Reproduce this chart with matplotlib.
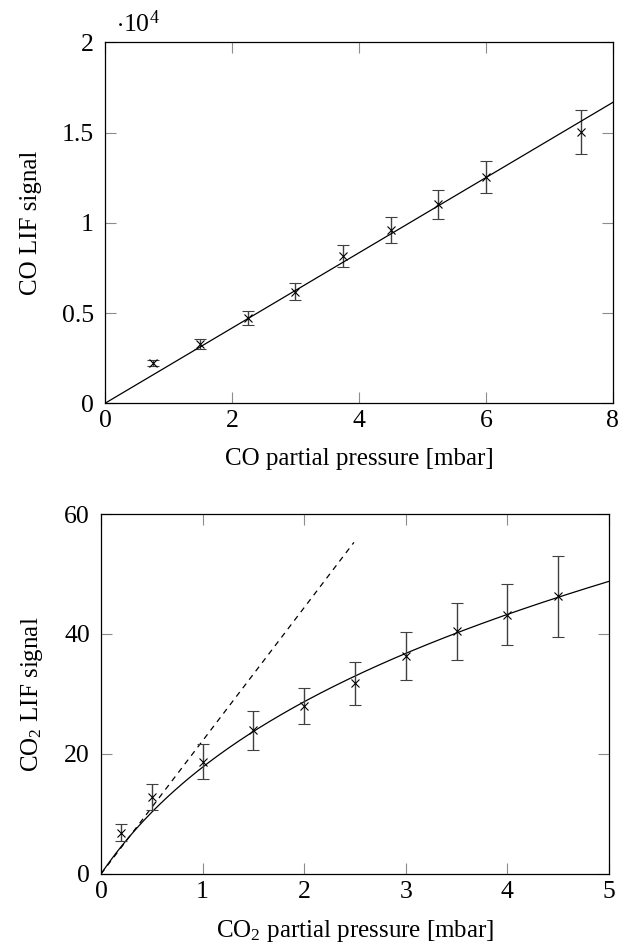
import numpy as np
import matplotlib
matplotlib.use('Agg')
import matplotlib.pyplot as plt
from matplotlib.ticker import FuncFormatter

plt.rcParams['font.family'] = ['Liberation Serif', 'DejaVu Serif']
plt.rcParams['mathtext.fontset'] = 'custom'
plt.rcParams['mathtext.rm'] = 'Liberation Serif'
plt.rcParams['mathtext.it'] = 'Liberation Serif:italic'

# CO data
co_p = [0.75, 1.5, 2.25, 3.0, 3.75, 4.5, 5.25, 6.0, 7.5]
co_sig = [2240, 3290, 4730, 6190, 8170, 9580, 11020, 12540, 15030]
co_err = [150, 300, 390, 460, 600, 720, 820, 900, 1240]
co_fit_x = [0, 8]
co_fit_y = [0, 16680]

# CO2 data
co2_p = [0.2, 0.5, 1.0, 1.5, 2.0, 2.5, 3.0, 3.5, 4.0, 4.5]
co2_sig = [6.9, 12.8, 18.7, 23.95, 28.0, 31.8, 36.4, 40.45, 43.2, 46.3]
co2_err = [1.36, 2.2, 2.9, 3.25, 3.05, 3.6, 4.0, 4.8, 5.1, 6.75]
# fit parameters: y = a*x/(1+b*x)**p
fit_a, fit_b, fit_p = 24.97, 0.758, 0.6
lin_slope = 22.2
lin_x = [0, 2.49]

fs_tick = 18.5
fs_lab = 18

fig = plt.figure(figsize=(6.21, 9.51), dpi=100)
ax1 = fig.add_axes([0.169, 0.5759, 0.818, 0.3795])
ax2 = fig.add_axes([0.1626, 0.0810, 0.818, 0.3785])

for ax in (ax1, ax2):
    ax.tick_params(direction='in', length=8, width=0.8, color='0.55',
                   top=True, right=True, labelsize=fs_tick, labelcolor='black')
    ax.tick_params(axis='x', pad=5)
    ax.tick_params(axis='y', pad=8)
    for s in ax.spines.values():
        s.set_linewidth(0.9)

# top plot
ax1.errorbar(co_p, co_sig, yerr=co_err, fmt='x', color='black', ms=6, mew=0.8,
             ecolor='0.25', elinewidth=1.0, capsize=4, capthick=1.0)
ax1.plot(co_fit_x, co_fit_y, color='black', lw=0.9)
ax1.set_xlim(0, 8)
ax1.set_ylim(0, 20000)
ax1.set_xticks([0, 2, 4, 6, 8])
ax1.set_yticks([0, 5000, 10000, 15000, 20000])
ax1.yaxis.set_major_formatter(FuncFormatter(lambda v, pos: '%g' % (v / 1e4)))
ax1.set_xlabel('CO partial pressure [mbar]', fontsize=fs_lab, labelpad=11)
ax1.set_ylabel('CO LIF signal', fontsize=fs_lab, labelpad=14)
ax1.text(0.022, 1.015, r'$\cdot10^4$', transform=ax1.transAxes, fontsize=fs_tick,
         ha='left', va='bottom')

# bottom plot
xs = np.linspace(0, 5, 200)
ax2.plot(xs, fit_a * xs / (1 + fit_b * xs) ** fit_p, color='black', lw=0.9)
ax2.plot(lin_x, [lin_slope * v for v in lin_x], color='black', lw=0.9,
         dashes=(4.5, 4))
ax2.errorbar(co2_p, co2_sig, yerr=co2_err, fmt='x', color='black', ms=6, mew=0.8,
             ecolor='0.25', elinewidth=1.0, capsize=4, capthick=1.0)
ax2.set_xlim(0, 5)
ax2.set_ylim(0, 60)
ax2.set_xticks([0, 1, 2, 3, 4, 5])
ax2.set_yticks([0, 20, 40, 60])
ax2.set_xlabel(r'CO$_2$ partial pressure [mbar]', fontsize=fs_lab, labelpad=11)
ax2.set_ylabel(r'CO$_2$ LIF signal', fontsize=fs_lab, labelpad=14)

fig.savefig('out.png', dpi=100)
